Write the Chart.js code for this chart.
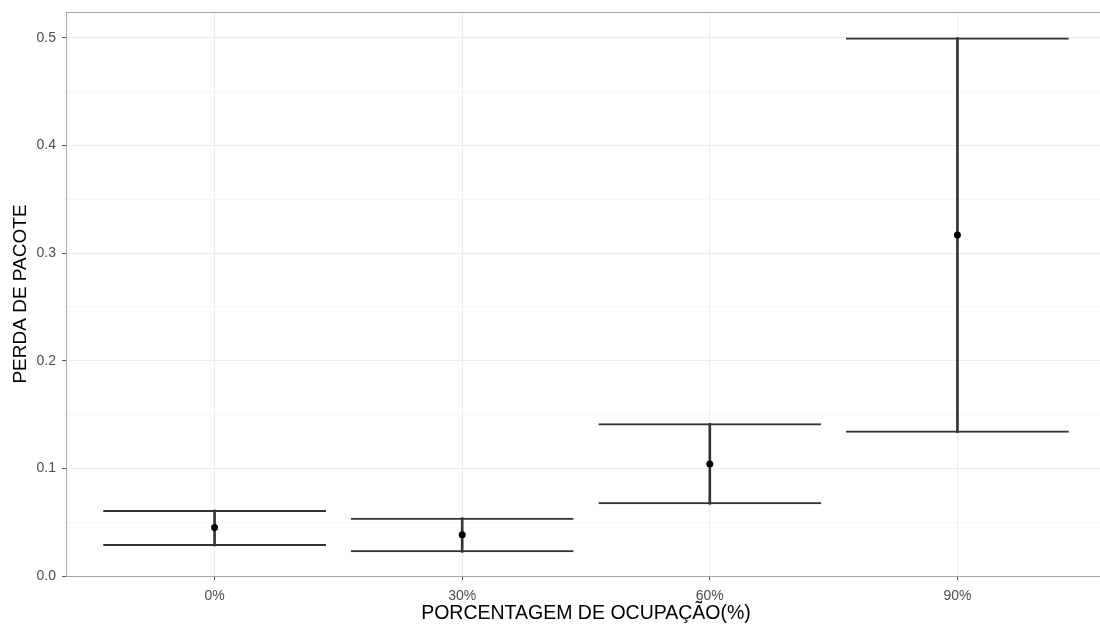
<!DOCTYPE html>
<html>
<head>
<meta charset="utf-8">
<script src="https://cdn.jsdelivr.net/npm/chart.js@4"></script>
<style>
  html, body { margin: 0; padding: 0; background: #fff; overflow: hidden; }
  #wrap { width: 1110px; height: 625px; }
</style>
</head>
<body>
<div id="wrap"><canvas id="chart"></canvas></div>
<script>
const categories = ["0%", "30%", "60%", "90%"];
const means = [0.045, 0.0384, 0.1041, 0.3169];
const lower = [0.0279, 0.022, 0.0666, 0.1332];
const upper = [0.0613, 0.0542, 0.1419, 0.5003];
const yTicks = [0, 0.05, 0.1, 0.15, 0.2, 0.25, 0.3, 0.35, 0.4, 0.45, 0.5];

const font = "'Liberation Sans', Arial, sans-serif";
const isMajor = (v) => Math.abs(v * 10 - Math.round(v * 10)) < 1e-6;

const rangeData = categories.map((c, i) => ({ x: i, y: [lower[i], upper[i]] }));
const meanData = categories.map((c, i) => ({ x: i, y: means[i] }));

// panel border like ggplot theme_bw
const panelBorder = {
  id: "panelBorder",
  afterDraw(chart) {
    const a = chart.chartArea;
    const ctx = chart.ctx;
    ctx.save();
    ctx.strokeStyle = "#a6a6a6";
    ctx.lineWidth = 1;
    ctx.strokeRect(a.left + 0.5, a.top + 0.5, a.right - a.left - 1, a.bottom - a.top);
    ctx.restore();
  },
};

new Chart(document.getElementById("chart"), {
  type: "bar",
  data: {
    datasets: [
      {
        label: "caps",
        data: rangeData,
        backgroundColor: "rgba(0,0,0,0)",
        borderColor: "#333",
        borderWidth: { top: 2, bottom: 2, left: 0, right: 0 },
        borderSkipped: false,
        barPercentage: 0.9,
        categoryPercentage: 1,
        grouped: false,
        order: 2,
      },
      {
        label: "range",
        data: rangeData,
        backgroundColor: "#333",
        borderWidth: 0,
        barThickness: 2,
        grouped: false,
        order: 1,
      },
      {
        type: "line",
        label: "mean",
        data: meanData,
        showLine: false,
        pointRadius: 3.5,
        pointBackgroundColor: "#000",
        pointBorderWidth: 0,
        order: 0,
      },
    ],
  },
  options: {
    responsive: true,
    maintainAspectRatio: false,
    animation: false,
    layout: { padding: { top: 12, right: 0, left: 0, bottom: 0 } },
    plugins: { legend: { display: false }, tooltip: { enabled: false } },
    scales: {
      x: {
        type: "linear",
        offset: false,
        min: -0.6,
        max: 3.6,
        afterBuildTicks: (s) => { s.ticks = categories.map((c, i) => ({ value: i })); },
        afterFit: (s) => { s.height = 49; s.paddingRight = 0; s.paddingLeft = 0; },
        ticks: {
          callback: (v) => categories[v],
          color: "#4d4d4d",
          font: { family: font, size: 14 },
          padding: 8,
          maxRotation: 0,
        },
        grid: { offset: false, color: "#ebebeb", tickColor: "#555", tickLength: 4 },
        border: { display: false },
        title: {
          display: true,
          text: "PORCENTAGEM DE OCUPAÇÃO(%)",
          color: "#000",
          font: { family: font, size: 19.5 },
          padding: { top: 0, bottom: 0 },
        },
      },
      y: {
        min: 0,
        max: 0.524,
        afterBuildTicks: (s) => { s.ticks = yTicks.map((v) => ({ value: v })); },
        afterFit: (s) => { s.width = 66; s.paddingTop = 0; s.paddingBottom = 0; },
        ticks: {
          callback: (v) => (isMajor(v) ? v.toFixed(1) : ""),
          color: "#4d4d4d",
          font: { family: font, size: 14 },
          padding: 6,
        },
        grid: {
          color: (c) => (isMajor(c.tick.value) ? "#ebebeb" : "#f5f5f5"),
          tickColor: (c) => (isMajor(c.tick.value) ? "#555" : "rgba(0,0,0,0)"),
          tickLength: 4,
        },
        border: { display: false },
        title: {
          display: true,
          text: "PERDA DE PACOTE",
          color: "#000",
          font: { family: font, size: 19 },
          padding: { top: 9, bottom: 0 },
        },
      },
    },
  },
  plugins: [panelBorder],
});
</script>
</body>
</html>
